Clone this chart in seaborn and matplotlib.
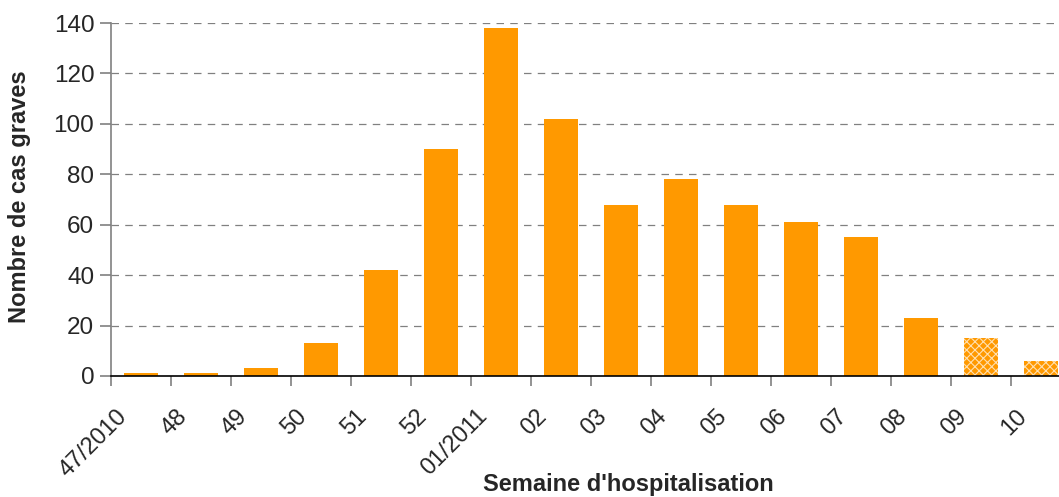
import matplotlib
matplotlib.use("Agg")
import matplotlib.pyplot as plt
import matplotlib.transforms as mtransforms
import seaborn as sns
import pandas as pd
import numpy as np

# donnees
semaines = ["47/2010", "48", "49", "50", "51", "52", "01/2011", "02", "03",
            "04", "05", "06", "07", "08", "09", "10"]
cas_graves = [1, 1, 3, 13, 42, 90, 138, 102, 68, 78, 68, 61, 55, 23, 15, 6]
# dernieres semaines : donnees non consolidees (barres hachurees)
provisoire = [False] * 14 + [True, True]

orange = "#FF9900"

sns.set_theme(style="white")
plt.rcParams["font.family"] = ["Liberation Sans", "DejaVu Sans"]
plt.rcParams["hatch.linewidth"] = 0.8

df = pd.DataFrame({"semaine": semaines, "cas": cas_graves})

fig = plt.figure(figsize=(10.59, 4.97), dpi=100)
ax = fig.add_axes([111 / 1059, 1 - 376 / 497, 960 / 1059, 353 / 497])

sns.barplot(data=df, x="semaine", y="cas", color=orange, saturation=1,
            width=0.58, ax=ax)

for barre, hach in zip(ax.patches, provisoire):
    barre.set_linewidth(0)
    if hach:
        barre.set_hatch("xxxx")
        barre.set_edgecolor("#FFE0B0")

ax.set_xlim(-0.5, len(semaines) - 0.5)
ax.set_ylim(0, 140)
ax.set_yticks(np.arange(0, 141, 20))
ax.yaxis.grid(True, linestyle=(0, (6, 5)), color="#808080", linewidth=0.9)
ax.set_axisbelow(True)

# graduations entre les categories
ax.set_xticks(np.arange(-0.5, len(semaines), 1), minor=True)
ax.tick_params(axis="x", which="major", length=0, labelsize=17, pad=21)
ax.tick_params(axis="x", which="minor", length=7, color="#808080", width=1.2,
               bottom=True)
ax.tick_params(axis="y", length=8, color="#808080", width=1.2, labelsize=17.5,
               left=True, pad=4)
decalage = mtransforms.ScaledTranslation(-25 / 100, 0, fig.dpi_scale_trans)
for lab in ax.get_xticklabels():
    lab.set_rotation(45)
    lab.set_ha("right")
    lab.set_rotation_mode("anchor")
    lab.set_transform(lab.get_transform() + decalage)

for s in ["top", "right"]:
    ax.spines[s].set_visible(False)
ax.spines["left"].set_color("#808080")
ax.spines["left"].set_linewidth(1.2)
ax.spines["bottom"].set_color("black")
ax.spines["bottom"].set_linewidth(1.2)

ax.set_xlabel("Semaine d'hospitalisation", fontsize=17, fontweight="bold")
ax.set_ylabel("Nombre de cas graves", fontsize=17, fontweight="bold")
ax.xaxis.label.set_va("baseline")
ax.xaxis.set_label_coords(628 / 1059, 6 / 497, transform=fig.transFigure)
ax.yaxis.set_label_coords(20 / 1059, 1 - 197 / 497, transform=fig.transFigure)
ax.yaxis.label.set_va("center")

fig.savefig("out.png", dpi=100)
